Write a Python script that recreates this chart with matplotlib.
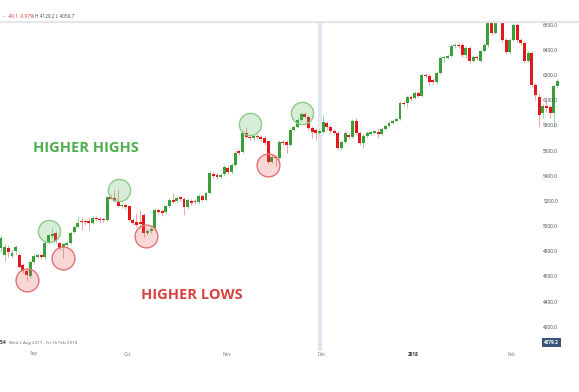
import matplotlib
matplotlib.use("Agg")
import matplotlib.pyplot as plt
from matplotlib.lines import Line2D
import numpy as np

# ---------------- data ----------------
opens = [4830, 4775, 4830, 4767, 4806, 4775, 4695, 4648, 4608, 4719,
         4759, 4775, 4759, 4878, 4925, 4949, 4870, 4838, 4854, 4870,
         4957, 4997, 5044, 5044, 5044, 5029, 5068, 5060, 5060, 5052,
         5235, 5227, 5203, 5163, 5171, 5163, 5052, 5036, 5036, 5092,
         4949, 4965, 4989, 5132, 5124, 5116, 5163, 5211, 5203, 5227,
         5219, 5155, 5203, 5203, 5195, 5243, 5211, 5267, 5417, 5410,
         5394, 5417, 5465, 5433, 5489, 5600, 5592, 5743, 5711, 5703,
         5719, 5711, 5703, 5679, 5513, 5552, 5544, 5671, 5671, 5648,
         5767, 5790, 5846, 5894, 5870, 5782, 5767, 5743, 5751, 5822,
         5790, 5759, 5743, 5624, 5671, 5727, 5711, 5838, 5743, 5663,
         5719, 5735, 5743, 5743, 5735, 5774, 5798, 5822, 5838, 5854,
         5981, 5981, 6029, 6021, 6060, 6036, 6203, 6195, 6163, 6148,
         6219, 6338, 6338, 6354, 6433, 6441, 6441, 6362, 6417, 6314,
         6346, 6314, 6394, 6441, 6719, 6537, 6703, 6679, 6481, 6386,
         6481, 6600, 6481, 6457, 6314, 6378, 6124, 6029, 5902, 5957,
         5949, 5902, 6116]
highs = [4933, 4862, 4854, 4814, 4854, 4790, 4711, 4671, 4735, 4782,
         4790, 4782, 4886, 4949, 4989, 4965, 4878, 4870, 4886, 4965,
         5005, 5076, 5076, 5060, 5076, 5084, 5084, 5076, 5068, 5243,
         5251, 5290, 5298, 5187, 5179, 5171, 5068, 5108, 5132, 5108,
         4981, 4997, 5148, 5148, 5140, 5171, 5227, 5267, 5243, 5243,
         5235, 5227, 5219, 5219, 5259, 5259, 5283, 5441, 5433, 5425,
         5425, 5489, 5481, 5505, 5600, 5616, 5759, 5790, 5735, 5735,
         5735, 5727, 5719, 5687, 5568, 5568, 5687, 5687, 5687, 5782,
         5806, 5862, 5910, 5910, 5886, 5798, 5782, 5774, 5886, 5838,
         5806, 5774, 5759, 5687, 5759, 5743, 5854, 5862, 5759, 5735,
         5759, 5759, 5767, 5782, 5790, 5814, 5838, 5854, 5870, 5997,
         5997, 6044, 6044, 6076, 6076, 6219, 6219, 6211, 6179, 6235,
         6354, 6362, 6370, 6449, 6457, 6457, 6457, 6433, 6433, 6362,
         6362, 6410, 6457, 6703, 6735, 6719, 6759, 6695, 6497, 6497,
         6616, 6616, 6497, 6473, 6394, 6394, 6140, 6060, 5973, 6005,
         5965, 6132, 6171]
lows = [4798, 4727, 4759, 4751, 4782, 4671, 4632, 4568, 4592, 4703,
        4751, 4743, 4743, 4862, 4910, 4870, 4814, 4751, 4838, 4862,
        4949, 4989, 4973, 5013, 4973, 5021, 5044, 5036, 5036, 5044,
        5211, 5195, 5155, 5148, 5140, 5044, 5013, 4997, 4989, 4918,
        4933, 4949, 4973, 5100, 5084, 5100, 5148, 5187, 5187, 5203,
        5092, 5140, 5171, 5179, 5179, 5195, 5203, 5259, 5386, 5378,
        5386, 5402, 5417, 5417, 5481, 5568, 5584, 5703, 5687, 5687,
        5695, 5679, 5648, 5497, 5505, 5481, 5529, 5648, 5584, 5640,
        5759, 5782, 5838, 5862, 5767, 5703, 5687, 5727, 5743, 5767,
        5743, 5727, 5608, 5608, 5655, 5695, 5703, 5727, 5648, 5624,
        5703, 5727, 5735, 5703, 5727, 5767, 5790, 5814, 5830, 5846,
        5957, 5941, 5997, 6013, 6029, 6029, 6179, 6124, 6132, 6132,
        6211, 6306, 6330, 6346, 6417, 6417, 6346, 6338, 6298, 6306,
        6322, 6306, 6386, 6425, 6521, 6529, 6687, 6465, 6370, 6370,
        6473, 6465, 6441, 6298, 6306, 6108, 6005, 5790, 5862, 5910,
        5862, 5790, 6100]
closes = [4910, 4838, 4798, 4790, 4838, 4679, 4648, 4616, 4719, 4767,
          4775, 4759, 4870, 4933, 4941, 4886, 4830, 4862, 4870, 4949,
          4997, 5029, 5036, 5036, 5029, 5068, 5060, 5052, 5052, 5235,
          5219, 5203, 5163, 5171, 5155, 5052, 5029, 5013, 5021, 4949,
          4965, 4981, 5132, 5116, 5108, 5163, 5211, 5195, 5227, 5219,
          5155, 5211, 5187, 5195, 5243, 5211, 5267, 5425, 5402, 5394,
          5410, 5473, 5433, 5489, 5584, 5584, 5743, 5711, 5703, 5719,
          5711, 5695, 5663, 5513, 5552, 5544, 5671, 5663, 5648, 5767,
          5790, 5846, 5894, 5870, 5782, 5751, 5743, 5759, 5830, 5790,
          5759, 5743, 5624, 5671, 5743, 5711, 5838, 5743, 5663, 5719,
          5743, 5743, 5751, 5735, 5774, 5798, 5822, 5838, 5854, 5981,
          5973, 6029, 6013, 6060, 6036, 6203, 6195, 6148, 6148, 6219,
          6338, 6346, 6354, 6433, 6441, 6433, 6362, 6417, 6314, 6346,
          6338, 6394, 6441, 6679, 6537, 6703, 6735, 6481, 6386, 6481,
          6600, 6481, 6457, 6314, 6378, 6124, 6044, 5886, 5957, 5941,
          5902, 6116, 6156]

y_ticks = [4200, 4400, 4600, 4800, 5000, 5200, 5400, 5600, 5800, 6000,
           6200, 6400, 6600]
month_labels = ["Sep", "Oct", "Nov", "Dec", "2018", "Feb"]
month_pos = [9.0, 34.5, 61.7, 87.7, 112.6, 139.6]   # candle index of label
dec_line = 87.2

higher_high_idx = [13.1, 32.3, 68.0, 82.1]
higher_high_price = [4965, 5294, 5814, 5899]
higher_low_idx = [7.2, 16.9, 39.5, 73.0]
higher_low_price = [4576, 4747, 4929, 5489]

last_price = 4079.2
header_change = ["-40.1", "-0.97%"]
header_hl = "H 4129.2 L 4050.7"
range_text = "Wed 2 Aug 2017 - Fri 16 Feb 2018"

# ---------------- figure ----------------
W, H = 579, 392
fig = plt.figure(figsize=(W / 100, H / 100), dpi=100)
fig.patch.set_facecolor("white")
top_px, bot_px = 22, 351
ax = fig.add_axes([0, (H - bot_px) / H, 1, (bot_px - top_px) / H])
ax.set_xlim(-0.273, 157.9)
ax.set_ylim(4012.5, 6624)
ax.axis("off")

GREEN = "#3a9e3a"
RED = "#e2191c"
GREEN_W = "#a3d6a0"
RED_W = "#f2a6a6"

o = np.array(opens, float)
c = np.array(closes, float)
h = np.array(highs, float)
l = np.array(lows, float)
x = np.arange(len(o))
up = c >= o

ax.axvspan(dec_line - 0.55, dec_line + 0.55, color="#dce7f3", zorder=0, lw=0)

ax.vlines(x[up], l[up], h[up], color=GREEN_W, lw=0.75, zorder=2)
ax.vlines(x[~up], l[~up], h[~up], color=RED_W, lw=0.75, zorder=2)
body_b = np.minimum(o, c)
body_h = np.maximum(np.abs(c - o), 12)
ax.bar(x[up], body_h[up], bottom=body_b[up], width=0.8, color=GREEN, lw=0, zorder=3)
ax.bar(x[~up], body_h[~up], bottom=body_b[~up], width=0.8, color=RED, lw=0, zorder=3)

ax.scatter(higher_high_idx, higher_high_price, s=255, facecolor=(0.30, 0.69, 0.31, 0.22),
           edgecolor="#8dcb8a", linewidth=1.0, zorder=4)
ax.scatter(higher_low_idx, higher_low_price, s=270, facecolor=(0.90, 0.30, 0.30, 0.22),
           edgecolor="#e27272", linewidth=1.0, zorder=4)

# y tick labels on the right
for v in y_ticks:
    ax.text(558 / W, v, f"{v:.1f}", transform=ax.get_yaxis_transform(),
            ha="right", va="center", fontsize=3.4, color="#444444",
            family="Open Sans", zorder=5)

# last price box
ax.text(551.5 / W, last_price, f"{last_price:.1f}", transform=ax.get_yaxis_transform(),
        ha="center", va="center", fontsize=3.4, color="white", family="Open Sans",
        fontweight="bold",
        bbox=dict(boxstyle="square,pad=0.35", fc="#3b5479", ec="none"), zorder=6)

# x labels
for lab, pos in zip(month_labels, month_pos):
    is_year = lab == "2018"
    fig.text((1 + 3.66 * pos) / W, 1 - 354 / H, lab, ha="center", va="center",
             fontsize=3.4, color="#333333" if is_year else "#777777",
             fontweight="bold" if is_year else "normal", family="Open Sans")

# header
fig.add_artist(Line2D([0, 1], [1 - 22 / H, 1 - 22 / H], transform=fig.transFigure,
                      color="#e6e6e6", lw=1.6))
fig.text(3 / W, 1 - 17 / H, "~", fontsize=3.4, color="#5a6f9a", va="center", family="Open Sans")
fig.text(8 / W, 1 - 17 / H, header_change[0], fontsize=3.4, color="#d9363a", va="center",
         family="Open Sans")
fig.text(20 / W, 1 - 17 / H, header_change[1], fontsize=3.4, color="#d9363a", va="center",
         family="Open Sans")
fig.text(35 / W, 1 - 17 / H, header_hl, fontsize=3.4, color="#444444", va="center",
         family="Open Sans")

# footer left
fig.text(0 / W, 1 - 343 / H, "5.4", fontsize=3.4, color="#333333", va="center",
         fontweight="bold", family="Open Sans")
fig.text(9 / W, 1 - 343 / H, range_text, fontsize=3.2, color="#666666", va="center",
         family="Open Sans")

# annotations
fig.text(33 / W, 1 - 148 / H, "HIGHER HIGHS", fontsize=10.5, color="#4fae50",
         fontweight="bold", family="Open Sans", va="center", ha="left")
fig.text(141 / W, 1 - 295 / H, "HIGHER LOWS", fontsize=10.5, color="#d94243",
         fontweight="bold", family="Open Sans", va="center", ha="left")

fig.savefig("out.png", dpi=100, facecolor="white")
